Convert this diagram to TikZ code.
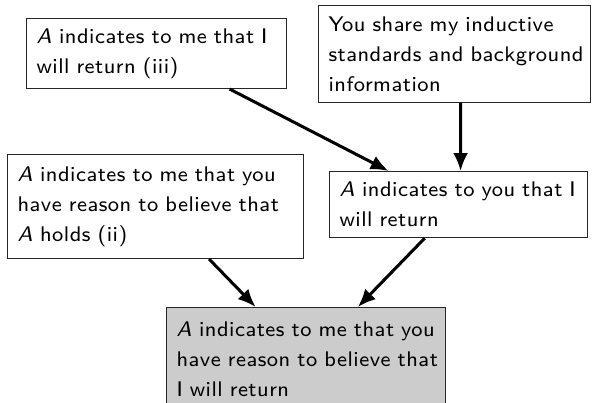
\documentclass[tikz,border=0pt]{standalone}
\usepackage{fontspec}
\setsansfont{lmsans8-regular.otf}[ItalicFont=lmsans8-oblique.otf, LetterSpace=2.4]
\usetikzlibrary{arrows.meta,calc}
\begin{document}
\begin{tikzpicture}[x=0.43pt,y=-0.43pt,
  box/.style={draw=black!85, line width=0.45pt, anchor=north west,
    inner xsep=4.3pt, inner ysep=0pt, align=left,
    font={\sffamily\fontsize{9.1}{12.9}\selectfont\spaceskip=4.2pt\relax}},
  link/.style={line width=1.3pt, -{Latex[length=7.7pt,width=6.4pt]}}]
\useasboundingbox (0,0) rectangle (597,403);
\clip (0,0) rectangle (597,403);

\node[box, text width=103.2pt, minimum height=30.1pt] (b1) at (26,18)
  {\mbox{\textit{A} indicates to me that I}\\ \mbox{will return (iii)}};
\node[box, text width=108.4pt, minimum height=41.7pt] (b2) at (318,5)
  {\mbox{You share my inductive}\\ \mbox{standards and background}\\ \mbox{information}};
\node[box, text width=118.7pt, minimum height=44.7pt] (b3) at (7,154)
  {\mbox{\textit{A} indicates to me that you}\\ \mbox{have reason to believe that}\\ \mbox{\textit{A} holds (ii)}};
\node[box, text width=102.3pt, minimum height=28.4pt] (b4) at (329,171)
  {\mbox{\textit{A} indicates to you that I}\\ \mbox{will return}};
\node[box, fill=black!20, text width=111.4pt, minimum height=44.7pt] (b5) at (166,307)
  {\mbox{\textit{A} indicates to me that you}\\ \mbox{have reason to believe that}\\ \mbox{I will return}};

\draw[link] ($(b1.south west)!0.78!(b1.south east)$) -- ($(b4.north west)!0.23!(b4.north east)$);
\draw[link] ($(b2.south west)!0.522!(b2.south east)$) -- ($(b4.north west)!0.508!(b4.north east)$);
\draw[link] ($(b3.south west)!0.68!(b3.south east)$) -- ($(b5.north west)!0.32!(b5.north east)$);
\draw[link] ($(b4.south west)!0.37!(b4.south east)$) -- ($(b5.north west)!0.685!(b5.north east)$);
\end{tikzpicture}
\end{document}
